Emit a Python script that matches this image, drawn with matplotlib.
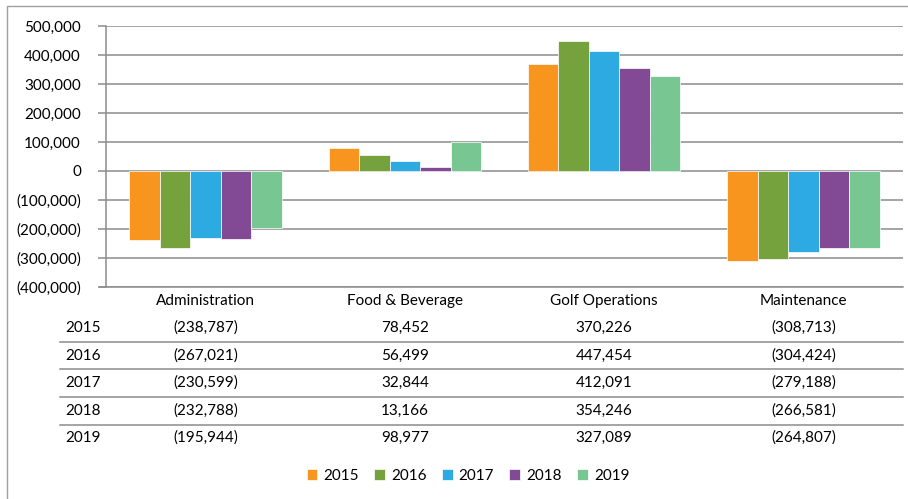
import matplotlib
matplotlib.use("Agg")
import matplotlib.pyplot as plt
import matplotlib.transforms as mtransforms
from matplotlib.patches import Rectangle
from matplotlib.lines import Line2D
import numpy as np

categories = ["Administration", "Food & Beverage", "Golf Operations", "Maintenance"]
years = ["2015", "2016", "2017", "2018", "2019"]
v2015 = [-238787, 78452, 370226, -308713]
v2016 = [-267021, 56499, 447454, -304424]
v2017 = [-230599, 32844, 412091, -279188]
v2018 = [-232788, 13166, 354246, -266581]
v2019 = [-195944, 98977, 327089, -264807]
series = [v2015, v2016, v2017, v2018, v2019]
colors = ["#F7951F", "#76A23E", "#2EAAE2", "#824A94", "#78C792"]

plt.rcParams["font.family"] = ["Lato", "DejaVu Sans"]
FS = 11

W, H = 908, 499


def fmt(v):
    # excel style: negatives in parentheses
    if v < 0:
        return f"({abs(v):,.0f})"
    return f"{v:,.0f}"


fig = plt.figure(figsize=(W / 100, H / 100), dpi=100)
ax = fig.add_axes([106 / W, 1 - 287 / H, (903 - 106) / W, (287 - 26) / H])

x = np.arange(len(categories))
bw = 0.153
for i, vals in enumerate(series):
    ax.bar(x + (i - 2) * bw, vals, width=bw, color=colors[i],
           edgecolor="white", linewidth=0.5, zorder=3, label=years[i])

ax.set_xlim(-0.5, len(categories) - 0.5)
ax.set_ylim(-400000, 500000)
ax.set_yticks(np.arange(-400000, 500001, 100000))
ax.set_yticklabels([fmt(t) for t in ax.get_yticks()])
ax.yaxis.grid(True, color="#8C8C8C", linewidth=1.1, zorder=0)
ax.set_xticks([])
for s in ["top", "right", "bottom"]:
    ax.spines[s].set_visible(False)
ax.spines["left"].set_color("#8C8C8C")
ax.spines["left"].set_linewidth(1.1)
ax.tick_params(axis="y", length=6, width=1.1, color="#8C8C8C", pad=12, labelsize=FS)

# data table under the axis
trans = mtransforms.blended_transform_factory(ax.transData, fig.transFigure)
header_y = 301
row_ys = [328, 356, 383, 411, 438]
line_ys = [342, 369, 397, 425]

for j, cat in enumerate(categories):
    fig.text(j, 1 - header_y / H, cat, transform=trans, ha="center", va="center", fontsize=FS)
for i, vals in enumerate(series):
    fig.text(65 / W, 1 - row_ys[i] / H, years[i], ha="left", va="center", fontsize=FS)
    for j, v in enumerate(vals):
        fig.text(j, 1 - row_ys[i] / H, fmt(v), transform=trans, ha="center", va="center", fontsize=FS)
for ly in line_ys:
    fig.add_artist(Line2D([60 / W, 903 / W], [1 - ly / H, 1 - ly / H],
                          transform=fig.transFigure, color="#8C8C8C", linewidth=1.1))
# bottom line of the plot area, which also tops the table
fig.add_artist(Line2D([100 / W, 903 / W], [1 - 287 / H, 1 - 287 / H],
                      transform=fig.transFigure, color="#8C8C8C", linewidth=1.1))

# outer chart border
fig.add_artist(Rectangle((7 / W, -0.01), 1.0, 1 - 6 / H + 0.01, transform=fig.transFigure,
                         fill=False, edgecolor="#A0A0A0", linewidth=1.0))

fig.legend(loc="center", bbox_to_anchor=(468 / W, 1 - 476 / H), ncol=5, frameon=False,
           handlelength=0.7, handleheight=0.7, handletextpad=0.4, columnspacing=1.0,
           fontsize=FS)

fig.savefig("out.png", dpi=100)
